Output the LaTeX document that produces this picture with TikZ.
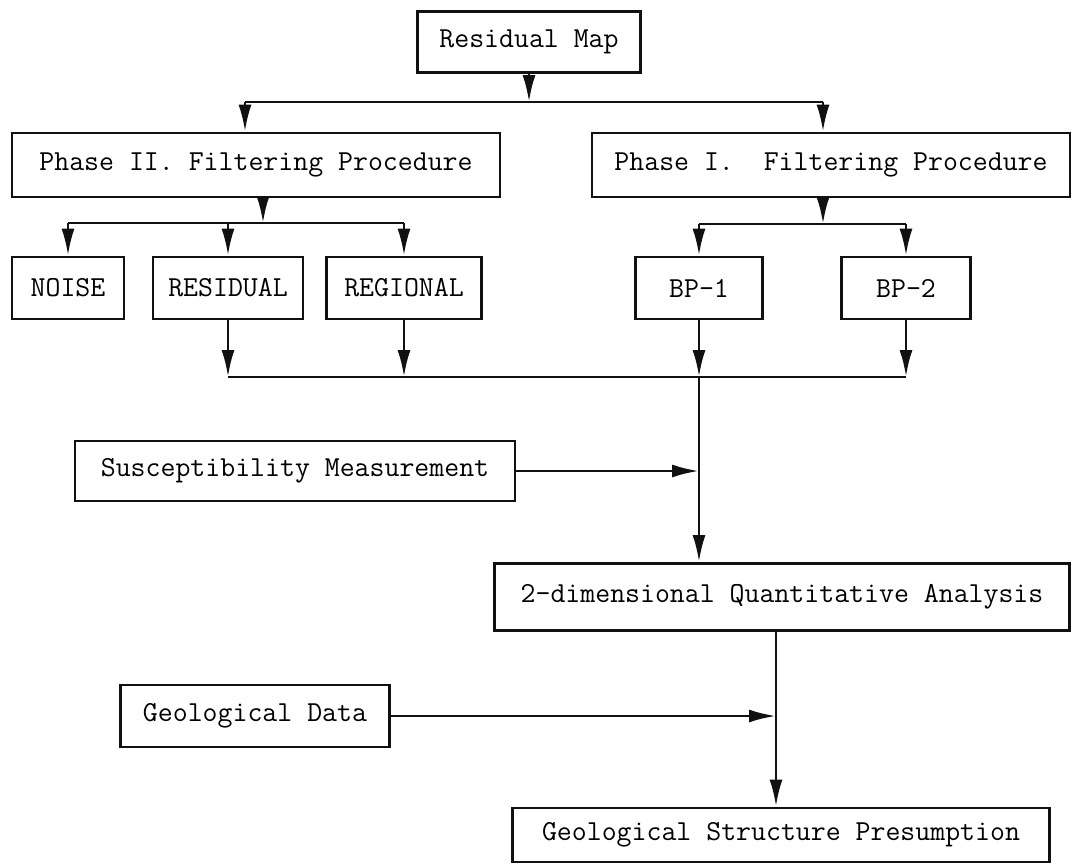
\documentclass[tikz,border=0pt]{standalone}
\usepackage{tikz}
\usetikzlibrary{arrows.meta,positioning,calc}
\definecolor{ink}{HTML}{111111}
\tikzset{
  procbox/.style={draw=ink,line width=2.8pt,inner sep=0pt,
                  minimum height=62pt,align=center,
                  font=\ttfamily\fontsize{29}{34}\selectfont},
  flowarr/.style={-{Latex[length=27pt,width=13pt]},line width=2.8pt,color=ink},
  busline/.style={line width=2.8pt,color=ink}
}

\begin{document}
\begin{tikzpicture}[x=1pt,y=-1pt]
\useasboundingbox (0,0) rectangle (1072,865);
% boxes
\node[procbox,minimum width=223pt,minimum height=61pt] (resmap) at (529,42) {Residual Map};
\node[procbox,minimum width=488pt,minimum height=64pt] (phase2) at (256,165) {Phase II. Filtering Procedure};
\node[procbox,minimum width=478pt,minimum height=64pt] (phase1) at (831,165) {Phase I.\ \ Filtering Procedure};
\node[procbox,minimum width=112pt] (noise) at (68,288) {NOISE};
\node[procbox,minimum width=150pt] (residual) at (228,288) {RESIDUAL};
\node[procbox,minimum width=155pt] (regional) at (404,288) {REGIONAL};
\node[procbox,minimum width=127pt] (bp1) at (699,288) {BP-1};
\node[procbox,minimum width=129pt] (bp2) at (906,288) {BP-2};
\node[procbox,minimum width=440pt,minimum height=60pt] (suscept) at (295,471) {Susceptibility Measurement};
\node[procbox,minimum width=575pt,minimum height=67pt] (quant) at (782,597) {2-dimensional Quantitative Analysis};
\node[procbox,minimum width=269pt] (geodata) at (255,716) {Geological Data};
\node[procbox,minimum width=537pt,minimum height=54pt] (geostruct) at (781,835) {Geological Structure Presumption};
% junction points
\coordinate (topbus) at (529,102);
\coordinate (p2in) at (245,102);
\coordinate (p1in) at (823,102);
\coordinate (p2out) at (263,223);
\coordinate (p1out) at (823,224);
\coordinate (lowbus) at (699,377);
\coordinate (qout) at (776,0);
% connectors
\draw[flowarr] (resmap) -- (topbus);
\draw[busline] (p2in) -- (p1in);
\draw[flowarr] (p2in) -- (p2in |- phase2.north);
\draw[flowarr] (p1in) -- (p1in |- phase1.north);
\draw[flowarr] (p2out |- phase2.south) -- (p2out);
\draw[busline] (noise.north |- p2out) -- (regional.north |- p2out);
\foreach \n in {noise,residual,regional}
  \draw[flowarr] (\n.north |- p2out) -- (\n.north);
\draw[flowarr] (p1out |- phase1.south) -- (p1out);
\draw[busline] (bp1.north |- p1out) -- (bp2.north |- p1out);
\foreach \n in {bp1,bp2}
  \draw[flowarr] (\n.north |- p1out) -- (\n.north);
\draw[busline] (residual.south |- lowbus) -- (bp2.south |- lowbus);
\foreach \n in {residual,regional,bp1,bp2}
  \draw[flowarr] (\n.south) -- (\n.south |- lowbus);
\draw[flowarr] (lowbus) -- (lowbus |- quant.north);
\draw[flowarr] (suscept.east) -- (suscept.east -| lowbus);
\draw[flowarr] (qout |- quant.south) -- (qout |- geostruct.north);
\draw[flowarr] (geodata.east) -- (geodata.east -| qout);
\end{tikzpicture}
\end{document}
